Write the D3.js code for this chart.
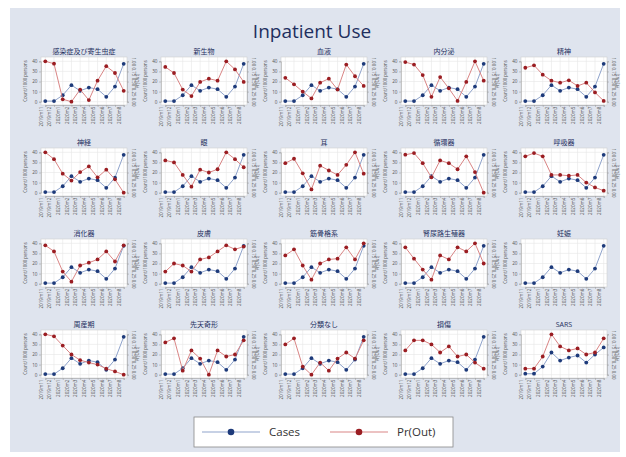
<!DOCTYPE html>
<html><head><meta charset="utf-8">
<script src="https://cdn.jsdelivr.net/npm/d3@7/dist/d3.min.js"></script>
<style>
body{margin:0;background:#fff}
text{font-family:"Open Sans","Noto Sans CJK JP",sans-serif}
</style>
</head><body>
<svg id="c" width="626" height="457"></svg>
<script>
const categories = ["感染症及び寄生虫症","新生物","血液","内分泌","精神",
  "神経","眼","耳","循環器","呼吸器",
  "消化器","皮膚","筋骨格系","腎尿路生殖器","妊娠",
  "周産期","先天奇形","分類なし","損傷","SARS"];
const periods = ["2019m11","2019m12","2020m1","2020m2","2020m3","2020m4","2020m5","2020m6","2020m7","2020m8"];
const cases = [0.6,0.6,6.4,16.4,10.8,14,12.4,4.8,15,37.5];
const sarsCases = [1,1,8,22,14,17,19,12,20,27];
const prOut = [
  [1.0,0.94,0.06,0.0,0.30,0.04,0.52,0.88,0.71,0.27],
  [0.86,0.71,0.30,0.14,0.49,0.57,0.52,1.0,0.80,0.49],
  [0.59,0.43,0.25,0.08,0.47,0.57,0.30,0.92,0.63,0.39],
  [0.98,0.92,0.66,0.12,0.61,0.33,0.02,0.49,1.0,0.52],
  [0.84,0.90,0.67,0.52,0.47,0.53,0.39,0.47,0.23,0.02],
  [1.0,0.83,0.47,0.30,0.51,0.65,0.38,0.57,0.33,0.0],
  [0.80,0.75,0.44,0.15,0.57,0.50,0.58,1.0,0.83,0.63],
  [0.73,0.84,0.48,0.08,0.67,0.55,0.44,0.69,1.0,0.47],
  [0.94,0.98,0.73,0.38,0.80,0.73,0.58,0.90,0.51,0.0],
  [0.90,0.98,0.90,0.44,0.44,0.42,0.44,0.25,0.13,0.05],
  [0.95,0.80,0.30,0.05,0.45,0.52,0.60,0.80,0.55,0.95],
  [0.30,0.50,0.45,0.30,0.60,0.65,0.80,0.95,0.85,0.92],
  [0.70,0.85,0.45,0.10,0.50,0.60,0.62,0.90,0.60,1.0],
  [0.90,0.62,0.35,0.10,0.70,0.60,0.90,0.80,1.0,0.50],
  null,
  [1.0,0.95,0.72,0.50,0.36,0.30,0.25,0.15,0.08,0.0],
  [0.80,0.90,0.10,0.60,0.40,0.0,0.60,0.45,0.50,0.85],
  [0.75,0.90,0.20,0.0,0.30,0.10,0.40,0.55,0.40,0.85],
  [0.60,0.85,0.85,0.75,0.55,0.70,0.45,0.50,0.30,0.15],
  [0.15,0.15,0.45,1.0,0.70,0.60,0.65,0.50,0.55,0.90]
];
const leftTicks = [0,10,20,30,40];
const rightTicks = [0,0.25,0.5,0.75,1];
const seriesNames = ["Cases","Pr(Out)"];

const C = {bg:"#dfe4ee", title:"#1e2f5e", blueLine:"#8fa3cb", blueDot:"#1d3a7a",
           redLine:"#d98585", redDot:"#9a1d22", grid:"#e6e6e6", axis:"#555"};

const svg = d3.select("#c");
svg.append("rect").attr("x",10).attr("y",8).attr("width",610).attr("height",444).attr("fill",C.bg);
svg.append("text").attr("x",312).attr("y",38).attr("text-anchor","middle")
  .attr("font-size",19).attr("fill",C.title).text("Inpatient Use");

const W = 86, H = 48;
categories.forEach((cat, i) => {
  const col = i % 5, row = Math.floor(i / 5);
  const x0 = 41 + 120*col, y0 = 57 + 91*row;
  const g = svg.append("g").attr("transform",`translate(${x0},${y0})`);
  const x = d3.scalePoint().domain(periods).range([4.3, W-3.3]);
  const yl = d3.scaleLinear().domain([0,40]).range([H-3.3, 4.3]);
  const yr = d3.scaleLinear().domain([0,1]).range([H-3.3, 4.3]);
  g.append("rect").attr("width",W).attr("height",H).attr("fill","#fff");
  // grid
  g.selectAll(".vg").data(periods).join("line").attr("x1",d=>x(d)).attr("x2",d=>x(d))
    .attr("y1",0).attr("y2",H).attr("stroke",C.grid).attr("stroke-width",0.6);
  g.selectAll(".hg").data(leftTicks).join("line").attr("x1",0).attr("x2",W)
    .attr("y1",d=>yl(d)).attr("y2",d=>yl(d)).attr("stroke",C.grid).attr("stroke-width",0.6);
  g.append("rect").attr("width",W).attr("height",H).attr("fill","none").attr("stroke","#cfcfcf").attr("stroke-width",0.6);
  // axes
  const ax = g.append("g").attr("transform",`translate(0,${H})`)
    .call(d3.axisBottom(x).tickSize(2).tickPadding(2));
  ax.selectAll("text").attr("transform","rotate(-90)").attr("text-anchor","end")
    .attr("dx","-1.5").attr("dy","-3.2").attr("x",0).attr("y",0)
    .attr("font-size",4.6).attr("fill",C.axis);
  const al = g.append("g").call(d3.axisLeft(yl).tickValues(leftTicks).tickSize(2).tickPadding(1.5));
  al.selectAll("text").attr("font-size",4.6).attr("fill",C.axis);
  g.append("text").attr("transform",`translate(-14,${H/2}) rotate(-90)`).attr("text-anchor","middle")
    .attr("font-size",4.4).attr("fill",C.axis).text("Count/1000 persons");
  [ax, al].forEach(a => { a.select(".domain").attr("stroke","#999").attr("stroke-width",0.5);
                          a.selectAll(".tick line").attr("stroke","#999").attr("stroke-width",0.5); });
  const pr = prOut[i];
  if (pr) {
    const ar = g.append("g").attr("transform",`translate(${W},0)`)
      .call(d3.axisRight(yr).tickValues(rightTicks).tickSize(2).tickPadding(1.5).tickFormat(d3.format(".2f")));
    ar.selectAll("text").attr("font-size",4.4).attr("fill",C.axis)
      .attr("transform","rotate(90)").attr("text-anchor","middle").attr("x",0).attr("y",-4.5).attr("dy",0);
    ar.select(".domain").attr("stroke","#999").attr("stroke-width",0.5);
    ar.selectAll(".tick line").attr("stroke","#999").attr("stroke-width",0.5);
    g.append("text").attr("transform",`translate(${W+12},${H/2}) rotate(-90)`).attr("text-anchor","middle")
      .attr("font-size",4.4).attr("fill",C.axis).text("Pr(Out)");
  }
  g.append("text").attr("x",W/2).attr("y",-3.5).attr("text-anchor","middle")
    .attr("font-size",7).attr("fill",C.title).text(cat);
  const cv = cat === "SARS" ? sarsCases : cases;
  const line = (ys, arr) => d3.line().x((d,k)=>x(periods[k])).y(d=>ys(d))(arr);
  g.append("path").attr("d",line(yl,cv)).attr("fill","none").attr("stroke",C.blueLine).attr("stroke-width",1);
  g.selectAll(".bd").data(cv).join("circle").attr("cx",(d,k)=>x(periods[k])).attr("cy",d=>yl(d))
    .attr("r",1.9).attr("fill",C.blueDot);
  if (pr) {
    g.append("path").attr("d",line(yr,pr)).attr("fill","none").attr("stroke",C.redLine).attr("stroke-width",1);
    g.selectAll(".rd").data(pr).join("circle").attr("cx",(d,k)=>x(periods[k])).attr("cy",d=>yr(d))
      .attr("r",1.9).attr("fill",C.redDot);
  }
});

// legend
const lg = svg.append("g");
lg.append("rect").attr("x",194).attr("y",417).attr("width",259).attr("height",30)
  .attr("fill","#fff").attr("stroke","#888").attr("stroke-width",0.8);
const legItems = [
  {name:seriesNames[0], line:C.blueLine, dot:C.blueDot, x:202},
  {name:seriesNames[1], line:C.redLine, dot:C.redDot, x:330}
];
legItems.forEach(it => {
  lg.append("line").attr("x1",it.x).attr("x2",it.x+58).attr("y1",432).attr("y2",432)
    .attr("stroke",it.line).attr("stroke-width",1.2);
  lg.append("circle").attr("cx",it.x+29).attr("cy",432).attr("r",3.3).attr("fill",it.dot);
  lg.append("text").attr("x",it.x+67).attr("y",436).attr("font-size",11.5).attr("fill","#333").text(it.name);
});
</script>
</body></html>
